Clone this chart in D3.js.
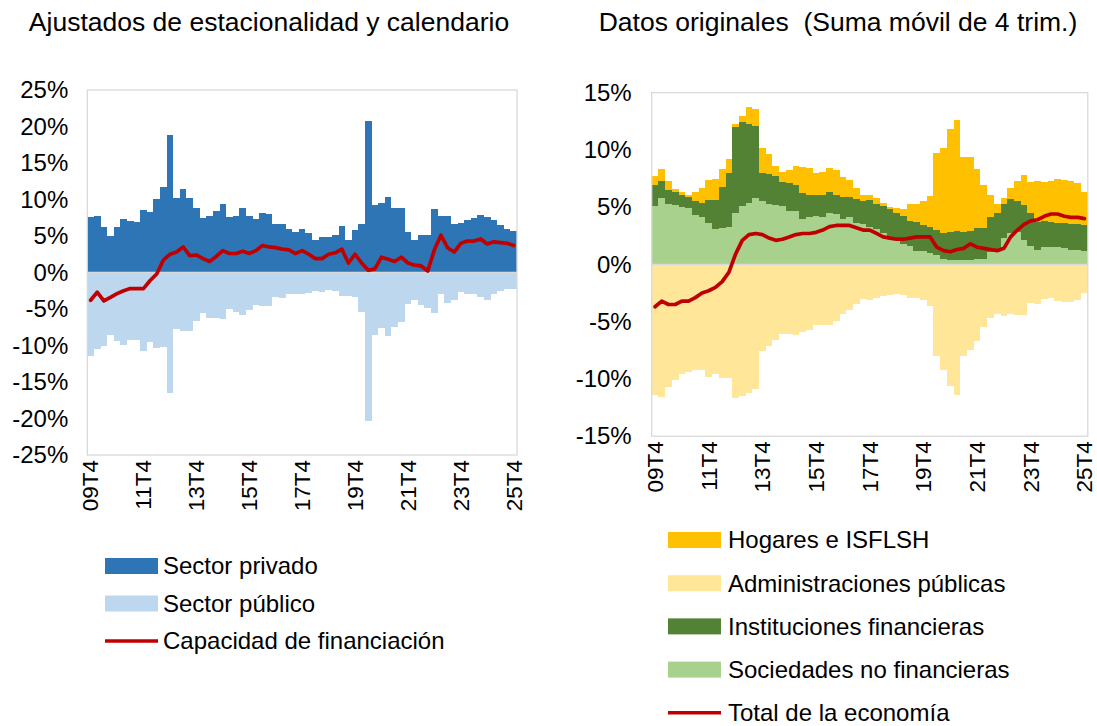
<!DOCTYPE html>
<html>
<head>
<meta charset="utf-8">
<script src="https://cdn.jsdelivr.net/npm/d3@7"></script>
<style>
  body { margin: 0; background: #fff; }
  svg { font-family: "Liberation Sans", Arial, sans-serif; }
</style>
</head>
<body>
<svg id="chart" width="1097" height="726"></svg>
<script>
// quarterly categories 2009Q4 .. 2025Q4
const categories = [];
for (let i = 0; i < 65; i++) {
  const yr = 9 + Math.floor((i + 3) / 4), q = ((i + 3) % 4) + 1;
  categories.push(String(yr).padStart(2, '0') + 'T' + q);
}
const tickLabels = ['09T4', '11T4', '13T4', '15T4', '17T4', '19T4', '21T4', '23T4', '25T4'];

// left panel: seasonally adjusted, % of GDP
const privado = [7.6, 7.8, 6.2, 5.0, 6.3, 7.3, 7.1, 6.9, 8.5, 8.3, 10.1, 11.7, 18.9, 10.2, 11.4, 10.2, 8.9, 7.4, 7.8, 8.4,
  9.4, 7.6, 7.8, 8.8, 7.8, 7.3, 8.2, 8.0, 6.7, 6.6, 6.0, 5.5, 6.0, 5.4, 4.5, 4.8, 4.8, 5.2, 6.4, 4.5,
  5.8, 6.7, 20.8, 9.2, 9.5, 10.4, 8.8, 8.8, 5.5, 4.4, 5.2, 5.1, 8.7, 7.8, 7.7, 6.6, 6.8, 7.2, 7.4, 7.9,
  7.6, 7.2, 6.5, 6.0, 5.7];
const publico = [-11.5, -10.5, -10.1, -8.5, -9.4, -9.9, -9.3, -9.2, -10.8, -9.5, -10.3, -10.2, -16.5, -7.7, -8.0, -8.0, -6.6, -5.6, -6.3, -6.2,
  -6.4, -5.0, -5.4, -5.8, -5.2, -4.5, -4.6, -4.6, -3.4, -3.5, -3.0, -2.9, -3.0, -2.8, -2.6, -2.7, -2.4, -2.6, -3.2, -3.2,
  -3.4, -5.4, -20.3, -8.6, -7.6, -8.7, -7.4, -6.8, -4.3, -3.7, -4.5, -4.8, -5.6, -2.9, -4.2, -3.8, -2.7, -2.9, -2.9, -3.4,
  -3.7, -3.0, -2.5, -2.2, -2.2];
const capacidad = [-3.8, -2.7, -3.9, -3.4, -2.9, -2.5, -2.2, -2.2, -2.2, -1.1, -0.2, 1.7, 2.5, 2.8, 3.5, 2.3, 2.4, 1.9, 1.5, 2.2,
  3.0, 2.6, 2.6, 2.9, 2.6, 3.0, 3.7, 3.5, 3.4, 3.2, 3.1, 2.6, 3.0, 2.5, 1.9, 1.9, 2.5, 2.7, 3.2, 1.3,
  2.5, 1.3, 0.3, 0.5, 2.1, 1.8, 1.5, 2.1, 1.3, 1.0, 0.9, 0.2, 3.1, 5.1, 3.4, 2.8, 4.0, 4.3, 4.3, 4.6,
  3.9, 4.2, 4.1, 4.0, 3.7];

// right panel: original data, 4-quarter moving sum
const sociedades = [5.1, 5.8, 5.3, 5.2, 5.0, 4.9, 4.3, 4.1, 3.6, 3.1, 3.2, 3.3, 4.5, 5.1, 5.4, 5.8, 5.5, 5.3, 5.2, 5.1,
  4.7, 4.7, 4.0, 4.1, 4.2, 4.1, 4.5, 4.4, 4.0, 4.1, 3.6, 3.5, 3.3, 3.1, 2.7, 2.4, 2.1, 1.8, 1.6, 1.2,
  1.2, 1.0, 0.8, 0.5, 0.4, 0.35, 0.4, 0.35, 0.45, 0.5, 1.1, 1.2, 2.3, 2.7, 2.8, 2.1, 1.6, 1.3, 1.5, 1.5,
  1.5, 1.4, 1.3, 1.3, 1.2];
const financieras = [1.8, 1.5, 1.2, 1.1, 1.1, 1.0, 1.2, 1.3, 2.0, 2.5, 3.6, 4.7, 7.5, 7.3, 6.9, 6.3, 2.5, 2.6, 2.5, 2.1,
  2.4, 2.2, 2.2, 2.0, 1.9, 2.0, 1.8, 1.7, 1.9, 1.8, 2.1, 2.0, 2.3, 2.2, 2.4, 2.4, 2.4, 2.4, 2.2, 2.5,
  2.2, 2.3, 2.2, 2.2, 2.4, 2.6, 2.4, 2.6, 2.7, 2.7, 3.0, 3.3, 3.0, 3.0, 2.7, 3.1, 2.9, 2.4, 2.3, 2.2,
  2.1, 2.2, 2.2, 2.2, 2.2];
const hogares = [0.8, 1.0, 0.8, 0.3, 0.2, 0.2, 0.8, 1.3, 1.8, 1.9, 1.5, 1.2, 0.3, 0.6, 1.4, 1.5, 2.2, 1.7, 0.9, 0.9,
  1.1, 1.7, 2.3, 2.3, 1.9, 2.0, 2.1, 2.1, 1.7, 1.5, 1.0, 0.6, 0.5, 0.5, 0.3, 0.2, 0.4, 0.6, 1.5, 1.6,
  2.1, 2.7, 6.7, 7.5, 9.0, 9.7, 6.6, 6.4, 5.2, 3.7, 2.0, 0.8, 0.5, 1.0, 1.8, 2.6, 2.7, 3.6, 3.4, 3.6,
  3.9, 3.8, 3.8, 3.6, 2.9];
const aapp = [-11.4, -11.6, -10.7, -10.1, -9.6, -9.4, -9.2, -9.2, -9.8, -9.6, -9.9, -9.9, -11.7, -11.5, -11.2, -10.9, -7.6, -7.1, -6.6, -6.1,
  -6.1, -6.2, -5.9, -5.7, -5.3, -5.3, -5.3, -4.9, -4.3, -4.0, -3.5, -3.0, -3.1, -2.9, -2.8, -2.7, -2.6, -2.7, -2.9, -2.9,
  -3.1, -3.6, -8.0, -9.2, -10.6, -11.4, -8.0, -7.5, -6.7, -5.5, -4.7, -4.3, -4.5, -4.3, -4.4, -4.4, -3.4, -3.5, -3.0, -2.9,
  -3.2, -3.3, -3.3, -3.1, -2.5];
const totalEconomia = [-3.7, -3.2, -3.5, -3.5, -3.2, -3.2, -2.9, -2.5, -2.3, -2.0, -1.5, -0.7, 0.9, 2.1, 2.6, 2.7, 2.6, 2.3, 2.1, 2.2,
  2.4, 2.6, 2.7, 2.7, 2.8, 3.0, 3.3, 3.4, 3.4, 3.4, 3.2, 3.0, 3.0, 2.7, 2.4, 2.3, 2.2, 2.2, 2.3, 2.4,
  2.4, 2.4, 1.5, 1.2, 1.1, 1.3, 1.4, 1.8, 1.5, 1.4, 1.3, 1.2, 1.4, 2.4, 3.0, 3.5, 3.8, 3.9, 4.2, 4.4,
  4.4, 4.2, 4.1, 4.1, 4.0];

const C = {
  privado: '#2e75b6', publico: '#bdd7ee', red: '#c00000',
  hog: '#ffc000', aapp: '#ffe699', fin: '#548235', snf: '#a9d18e', grid: '#d9d9d9'
};

const svg = d3.select('#chart');
svg.append('rect').attr('width', 1097).attr('height', 726).attr('fill', '#fff');

function panel(opts) {
  const { x0, x1, yTop, yBot, dom, step, series, line, title, titleX, labelPad } = opts;
  const g = svg.append('g');
  const x = d3.scaleBand().domain(d3.range(categories.length)).range([x0, x1]).padding(0);
  const y = d3.scaleLinear().domain(dom).range([yBot, yTop]);
  const bx = i => Math.round(x(i)), bw = i => Math.round(x(i) + x.bandwidth()) - Math.round(x(i));

  // stacked bars (diverging)
  const rows = categories.map((c, i) => { const r = {}; series.forEach(s => r[s.key] = s.values[i]); return r; });
  const stack = d3.stack().keys(series.map(s => s.key)).offset(d3.stackOffsetDiverging)(rows);
  stack.forEach((layer, k) => {
    g.append('g').attr('fill', series[k].color).attr('shape-rendering', 'crispEdges')
      .selectAll('rect').data(layer).join('rect')
      .attr('x', (d, i) => bx(i)).attr('width', (d, i) => bw(i))
      .attr('y', d => Math.round(y(Math.max(d[0], d[1]))))
      .attr('height', d => Math.round(y(Math.min(d[0], d[1]))) - Math.round(y(Math.max(d[0], d[1]))));
  });

  // plot border + zero line
  g.append('rect').attr('x', x0).attr('y', yTop).attr('width', x1 - x0).attr('height', yBot - yTop)
    .attr('fill', 'none').attr('stroke', C.grid).attr('stroke-width', 1.3);
  g.append('line').attr('x1', x0).attr('x2', x1).attr('y1', y(0)).attr('y2', y(0))
    .attr('stroke', C.grid).attr('stroke-width', 1.5);

  // line series
  g.append('path').datum(line.values)
    .attr('d', d3.line().x((d, i) => x(i) + x.bandwidth() / 2).y(d => y(d)))
    .attr('fill', 'none').attr('stroke', C.red).attr('stroke-width', 3.7)
    .attr('stroke-linejoin', 'round').attr('stroke-linecap', 'round');

  // y axis
  const ya = g.append('g').attr('transform', `translate(${x0},0)`)
    .call(d3.axisLeft(y).tickValues(d3.range(dom[0], dom[1] + 0.1, step)).tickSize(0).tickPadding(labelPad)
      .tickFormat(d => d + '%'));
  ya.select('.domain').remove();
  ya.selectAll('text').attr('font-size', 24).attr('fill', '#000').style('font-family', 'inherit');

  // x axis (rotated labels)
  const xa = g.append('g').attr('transform', `translate(0,${yBot})`)
    .call(d3.axisBottom(x).tickValues(tickLabels.map(t => categories.indexOf(t))).tickSize(0)
      .tickFormat(i => categories[i]));
  xa.select('.domain').remove();
  xa.selectAll('text').attr('font-size', 22.5).attr('fill', '#000').style('font-family', 'inherit')
    .attr('transform', 'rotate(-90)').attr('text-anchor', 'end')
    .attr('x', -5).attr('y', 0).attr('dy', '0.35em');

  svg.append('text').attr('x', titleX).attr('y', 31).attr('text-anchor', 'middle')
    .attr('font-size', 26.5).style('white-space', 'pre').text(title);
}

panel({
  x0: 87.3, x1: 517, yTop: 90, yBot: 455, dom: [-25, 25], step: 5, labelPad: 19,
  series: [{ key: 'privado', values: privado, color: C.privado }, { key: 'publico', values: publico, color: C.publico }],
  line: { values: capacidad }, title: 'Ajustados de estacionalidad y calendario', titleX: 269
});
panel({
  x0: 651.7, x1: 1087.8, yTop: 92.6, yBot: 436.2, dom: [-15, 15], step: 5, labelPad: 20,
  series: [{ key: 'snf', values: sociedades, color: C.snf }, { key: 'fin', values: financieras, color: C.fin },
           { key: 'hog', values: hogares, color: C.hog }, { key: 'aapp', values: aapp, color: C.aapp }],
  line: { values: totalEconomia }, title: 'Datos originales  (Suma móvil de 4 trim.)', titleX: 838
});

// legends
function legend(items, sx, tx, y0, dy) {
  const lg = svg.append('g');
  items.forEach((it, k) => {
    const cy = y0 + k * dy;
    if (it.type === 'line') {
      lg.append('line').attr('x1', sx).attr('x2', sx + 53).attr('y1', cy).attr('y2', cy)
        .attr('stroke', it.color).attr('stroke-width', 3.5);
    } else {
      lg.append('rect').attr('x', sx).attr('y', cy - 8).attr('width', 53).attr('height', 16).attr('fill', it.color);
    }
    lg.append('text').attr('x', tx).attr('y', cy).attr('dy', '0.35em').attr('font-size', 24).text(it.label);
  });
}
legend([
  { label: 'Sector privado', color: C.privado },
  { label: 'Sector público', color: C.publico },
  { label: 'Capacidad de financiación', color: C.red, type: 'line' }
], 105, 163, 566, 37.5);
legend([
  { label: 'Hogares e ISFLSH', color: C.hog },
  { label: 'Administraciones públicas', color: C.aapp },
  { label: 'Instituciones financieras', color: C.fin },
  { label: 'Sociedades no financieras', color: C.snf },
  { label: 'Total de la economía', color: C.red, type: 'line' }
], 668, 728, 540, 43.2);
</script>
</body>
</html>
